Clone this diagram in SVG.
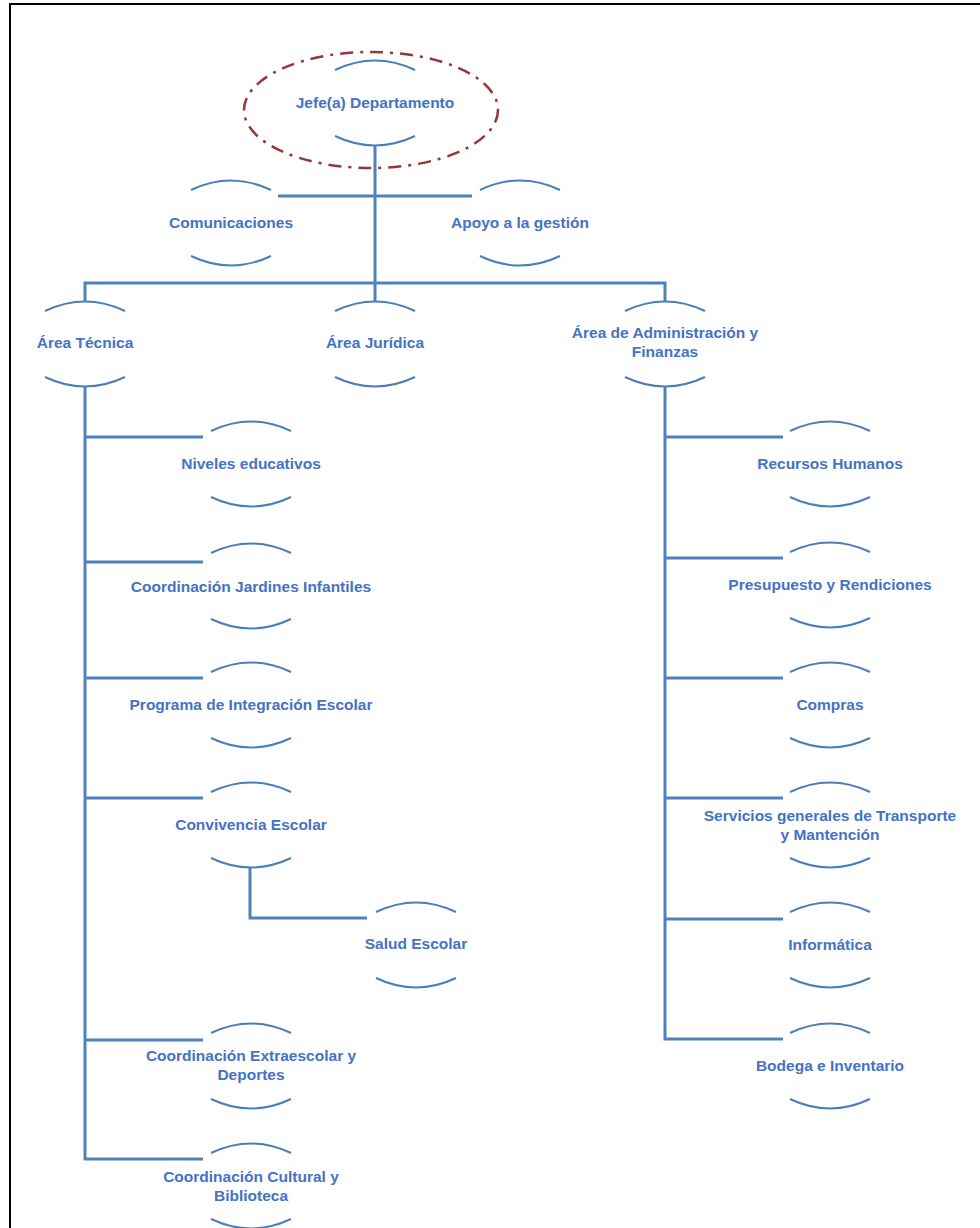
<svg xmlns="http://www.w3.org/2000/svg" width="980" height="1228" viewBox="0 0 980 1228">
<defs>
<style>
.t{font-family:"Liberation Sans",Arial,sans-serif;font-weight:bold;font-size:15.5px;fill:#4472C4;text-anchor:middle}
.arc{fill:none;stroke:#4A7EBB;stroke-width:2}
.c{fill:none;stroke:#4F81BD;stroke-width:3}
.frame{fill:none;stroke:#000;stroke-width:2}
</style>
<g id="node-shape">
<path class="arc" d="M-40,-33 Q0,-52 40,-33"/>
<path class="arc" d="M-40,33 Q0,52 40,33"/>
</g>
</defs>
<rect width="980" height="1228" fill="#fff"/>
<path class="frame" d="M10,1228 V4 H980"/>
<g id="connectors">
<path class="c" d="M375,146 V283"/>
<path class="c" d="M278,196 H472"/>
<path class="c" d="M85,302 V283 H665 V302"/>
<path class="c" d="M375,283 V302"/>
<path class="c" d="M85,387 V1159 H203"/>
<path class="c" d="M85,437 H203 M85,562 H203 M85,678 H203 M85,798 H203 M85,1040 H203"/>
<path class="c" d="M250,868 V918 H367"/>
<path class="c" d="M665,387 V1039 H783"/>
<path class="c" d="M665,437 H783 M665,558 H783 M665,678 H783 M665,798 H783 M665,919 H783"/>
</g>
<g id="n-jefe">
<ellipse cx="371" cy="110" rx="127" ry="58" fill="none" stroke="#953735" stroke-width="2.5" stroke-dasharray="13 7 3 7"/>
<use href="#node-shape" x="375" y="103"/>
<text class="t" x="375" y="108">Jefe(a) Departamento</text>
</g>
<g id="n-comunicaciones">
<use href="#node-shape" x="231" y="223"/>
<text class="t" x="231" y="228">Comunicaciones</text>
</g>
<g id="n-apoyo">
<use href="#node-shape" x="520" y="223"/>
<text class="t" x="520" y="228">Apoyo a la gestión</text>
</g>
<g id="n-tecnica">
<use href="#node-shape" x="85" y="344"/>
<text class="t" x="85" y="348">Área Técnica</text>
</g>
<g id="n-juridica">
<use href="#node-shape" x="375" y="344"/>
<text class="t" x="375" y="348">Área Jurídica</text>
</g>
<g id="n-admin">
<use href="#node-shape" x="665" y="344"/>
<text class="t" x="665" y="338">Área de Administración y</text>
<text class="t" x="665" y="357">Finanzas</text>
</g>
<g id="n-niveles">
<use href="#node-shape" x="251" y="464"/>
<text class="t" x="251" y="469">Niveles educativos</text>
</g>
<g id="n-jardines">
<use href="#node-shape" x="251" y="586"/>
<text class="t" x="251" y="592">Coordinación Jardines Infantiles</text>
</g>
<g id="n-programa">
<use href="#node-shape" x="251" y="705"/>
<text class="t" x="251" y="710">Programa de Integración Escolar</text>
</g>
<g id="n-convivencia">
<use href="#node-shape" x="251" y="825"/>
<text class="t" x="251" y="830">Convivencia Escolar</text>
</g>
<g id="n-salud">
<use href="#node-shape" x="416" y="945"/>
<text class="t" x="416" y="949">Salud Escolar</text>
</g>
<g id="n-extraescolar">
<use href="#node-shape" x="251" y="1066"/>
<text class="t" x="251" y="1061">Coordinación Extraescolar y</text>
<text class="t" x="251" y="1080">Deportes</text>
</g>
<g id="n-cultural">
<use href="#node-shape" x="251" y="1186"/>
<text class="t" x="251" y="1182">Coordinación Cultural y</text>
<text class="t" x="251" y="1201">Biblioteca</text>
</g>
<g id="n-rrhh">
<use href="#node-shape" x="830" y="464"/>
<text class="t" x="830" y="469">Recursos Humanos</text>
</g>
<g id="n-presupuesto">
<use href="#node-shape" x="830" y="585"/>
<text class="t" x="830" y="590">Presupuesto y Rendiciones</text>
</g>
<g id="n-compras">
<use href="#node-shape" x="830" y="705"/>
<text class="t" x="830" y="710">Compras</text>
</g>
<g id="n-servicios">
<use href="#node-shape" x="830" y="825"/>
<text class="t" x="830" y="821">Servicios generales de Transporte</text>
<text class="t" x="830" y="840">y Mantención</text>
</g>
<g id="n-informatica">
<use href="#node-shape" x="830" y="945"/>
<text class="t" x="830" y="950">Informática</text>
</g>
<g id="n-bodega">
<use href="#node-shape" x="830" y="1066"/>
<text class="t" x="830" y="1071">Bodega e Inventario</text>
</g>
</svg>
